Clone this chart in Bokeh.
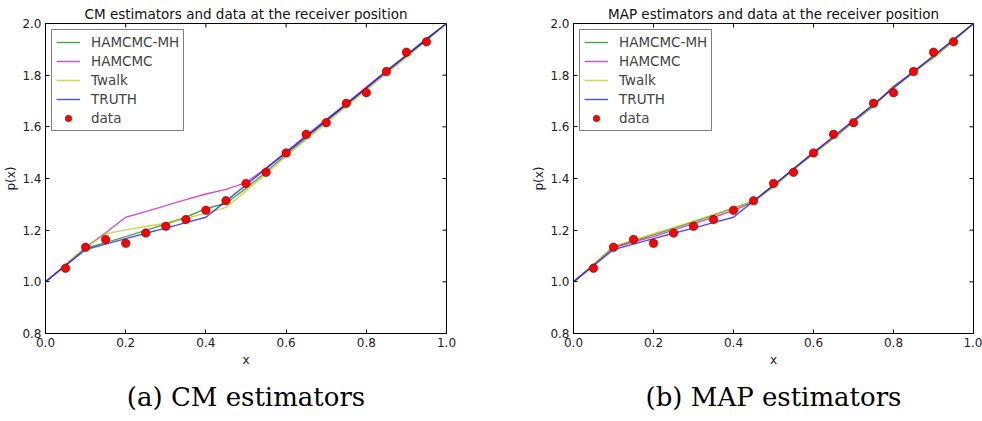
import math
from bokeh.plotting import figure
from bokeh.layouts import row
from bokeh.models import Title, Range1d, Legend, LegendItem
from bokeh.embed import file_html
from bokeh.resources import INLINE

xs = [0.0, 0.05, 0.1, 0.15, 0.2, 0.25, 0.3, 0.35, 0.4, 0.45, 0.5,
      0.55, 0.6, 0.65, 0.7, 0.75, 0.8, 0.85, 0.9, 0.95, 1.0]

data_x = [0.05, 0.1, 0.15, 0.2, 0.25, 0.3, 0.35, 0.4, 0.45, 0.5,
          0.55, 0.6, 0.65, 0.7, 0.75, 0.8, 0.85, 0.9, 0.95]
data_y = [1.053, 1.134, 1.164, 1.149, 1.189, 1.215, 1.241, 1.277, 1.314, 1.381,
          1.424, 1.499, 1.571, 1.616, 1.691, 1.732, 1.814, 1.889, 1.929]

truth = [1.0, 1.0625, 1.125, 1.146, 1.167, 1.188, 1.208, 1.229, 1.25, 1.3125, 1.375,
         1.4375, 1.5, 1.5625, 1.625, 1.6875, 1.75, 1.8125, 1.875, 1.9375, 2.0]

# CM estimators
cm_mh = [1.0, 1.065, 1.13, 1.152, 1.175, 1.199, 1.224, 1.25, 1.283, 1.304, 1.362,
         1.425, 1.493, 1.557, 1.622, 1.684, 1.75, 1.818, 1.878, 1.942, 2.0]
cm_ham = [1.0, 1.066, 1.133, 1.19, 1.25, 1.272, 1.295, 1.318, 1.34, 1.358, 1.384,
          1.44, 1.503, 1.566, 1.628, 1.69, 1.754, 1.815, 1.876, 1.938, 2.0]
cm_twalk = [1.0, 1.066, 1.133, 1.186, 1.201, 1.214, 1.227, 1.246, 1.265, 1.288, 1.352,
            1.418, 1.487, 1.55, 1.614, 1.678, 1.742, 1.806, 1.869, 1.933, 2.0]

# MAP estimators
map_mh = [1.0, 1.066, 1.135, 1.158, 1.182, 1.207, 1.232, 1.258, 1.285, 1.312, 1.37,
          1.435, 1.497, 1.556, 1.62, 1.68, 1.757, 1.812, 1.868, 1.932, 2.0]
map_ham = [1.0, 1.066, 1.133, 1.154, 1.175, 1.2, 1.225, 1.25, 1.276, 1.31, 1.372,
           1.437, 1.5, 1.558, 1.622, 1.684, 1.755, 1.814, 1.874, 1.936, 2.0]
map_twalk = [1.0, 1.066, 1.137, 1.161, 1.186, 1.21, 1.235, 1.26, 1.286, 1.31, 1.366,
             1.432, 1.494, 1.556, 1.618, 1.68, 1.752, 1.81, 1.87, 1.933, 2.0]

series_names = ["HAMCMC-MH", "HAMCMC", "Twalk", "TRUTH"]
series_colors = ["#008000", "#c000c0", "#c0c000", "#0000ff"]

x_ticks = [0.0, 0.2, 0.4, 0.6, 0.8, 1.0]
y_ticks = [0.8, 1.0, 1.2, 1.4, 1.6, 1.8, 2.0]
X_MIN, X_MAX = 0.0, 1.0
Y_MIN, Y_MAX = 0.8, 2.0

FONT = "DejaVu Sans"


def style_axis(ax, ticks, label, label_standoff):
    ax.ticker = ticks
    ax.axis_line_color = "black"
    ax.major_tick_in = 4
    ax.major_tick_out = 0
    ax.minor_tick_line_color = None
    ax.major_label_text_font = FONT
    ax.major_label_text_font_size = "12px"
    ax.major_label_text_color = "#222222"
    ax.axis_label_text_font = FONT
    ax.axis_label_text_font_size = "12px"
    ax.axis_label_text_font_style = "normal"
    ax.axis_label_text_color = "#222222"
    ax.major_label_overrides = {v: f"{v:.1f}" for v in ticks}
    ax.major_label_standoff = 4
    ax.axis_label_standoff = label_standoff
    ax.axis_label = label


def make_plot(title, caption, curves, left_border, right_border):
    p = figure(width=491, height=421,
               output_backend="svg", toolbar_location=None,
               x_range=Range1d(X_MIN, X_MAX), y_range=Range1d(Y_MIN, Y_MAX),
               min_border_left=left_border, min_border_right=right_border,
               min_border_top=23, min_border_bottom=88)
    p.title.text = title
    p.title.align = "center"
    p.title.text_font = FONT
    p.title.text_font_size = "13.5px"
    p.title.text_font_style = "normal"
    p.title.text_color = "#111111"
    p.title.standoff = 4
    p.grid.visible = False
    p.outline_line_color = "black"
    p.outline_line_width = 1
    p.background_fill_color = "white"
    p.border_fill_color = "white"
    style_axis(p.xaxis[0], x_ticks, "x", 3)
    style_axis(p.yaxis[0], y_ticks, "p(x)", 1)

    # mirrored inward ticks on the top and right spines (clipped half-dashes)
    p.scatter([X_MAX] * len(y_ticks), y_ticks, marker="dash", size=8,
              line_color="black", line_width=1)
    p.scatter(x_ticks, [Y_MAX] * len(x_ticks), marker="dash", size=8,
              angle=math.pi / 2, line_color="black", line_width=1)

    items = []
    for name, color, ys in zip(series_names, series_colors, curves + [truth]):
        r = p.line(xs, ys, line_color=color, line_width=1.4, line_alpha=0.7)
        items.append(LegendItem(label=name, renderers=[r]))
    r = p.scatter(data_x, data_y, size=8.5, fill_color="red",
                  line_color="#550000", line_width=0.5)
    items.append(LegendItem(label="data", renderers=[r]))

    leg = Legend(items=items, location="top_left")
    leg.margin = 6
    leg.padding = 4
    leg.spacing = 3
    leg.glyph_height = 16
    leg.label_height = 16
    leg.glyph_width = 24
    leg.label_standoff = 11
    leg.label_text_font = FONT
    leg.label_text_font_size = "13.5px"
    leg.border_line_color = "black"
    leg.border_line_width = 1
    leg.background_fill_alpha = 1
    p.add_layout(leg, "center")

    cap = Title(text=caption, align="center", text_font="DejaVu Serif",
                text_font_size="26px", text_font_style="normal",
                text_color="black", standoff=20)
    p.add_layout(cap, "below")
    return p


p1 = make_plot("CM estimators and data at the receiver position", "(a) CM estimators",
               [cm_mh, cm_ham, cm_twalk], 45, 45)
p2 = make_plot("MAP estimators and data at the receiver position", "(b) MAP estimators",
               [map_mh, map_ham, map_twalk], 82, 9)

layout = row(p1, p2)
open("out.html", "w").write(file_html(layout, INLINE))
